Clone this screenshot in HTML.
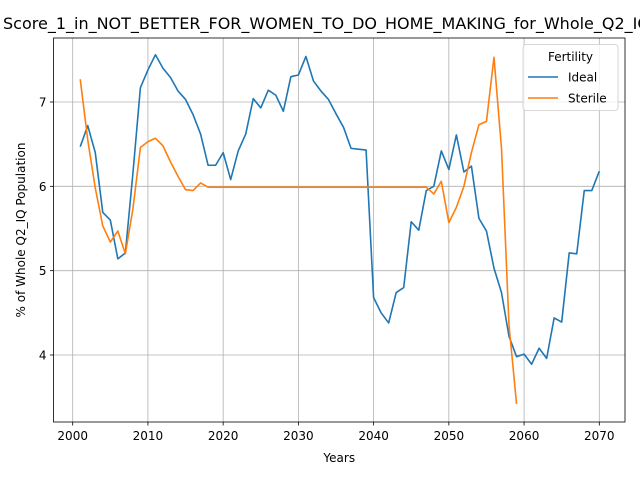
<!DOCTYPE html>
<html><head><meta charset="utf-8"><style>
body{margin:0;background:#fff;font-family:"Liberation Sans","DejaVu Sans",sans-serif}
</style></head><body>
<svg id="chart" width="640" height="480" xmlns="http://www.w3.org/2000/svg" font-family="DejaVu Sans, Liberation Sans, sans-serif">
<rect width="640" height="480" fill="#fff"/>
<text x="3" y="29" font-size="16" text-anchor="start">Score_1_in_NOT_BETTER_FOR_WOMEN_TO_DO_HOME_MAKING_for_Whole_Q2_IQ</text>
<g id="grid"></g><g id="series"></g><g id="axes"></g>
</svg>
<script>
const years=[];for(let y=2001;y<=2070;y++)years.push(y);
const idealValues=[6.47,6.72,6.40,5.69,5.60,5.14,5.21,6.15,7.17,7.38,7.56,7.40,7.29,7.13,7.03,6.85,6.62,6.25,6.25,6.40,6.08,6.42,6.62,7.04,6.93,7.14,7.08,6.89,7.30,7.32,7.54,7.25,7.13,7.03,6.86,6.70,6.45,6.44,6.43,4.68,4.50,4.38,4.74,4.80,5.58,5.48,5.95,6.00,6.42,6.20,6.61,6.17,6.24,5.62,5.47,5.03,4.74,4.22,3.98,4.01,3.89,4.08,3.96,4.44,4.39,5.21,5.20,5.95,5.95,6.18];
const sterileValues=[7.27,6.55,5.98,5.53,5.34,5.47,5.20,5.73,6.46,6.53,6.57,6.48,6.29,6.12,5.96,5.95,6.04,5.99,5.99,5.99,5.99,5.99,5.99,5.99,5.99,5.99,5.99,5.99,5.99,5.99,5.99,5.99,5.99,5.99,5.99,5.99,5.99,5.99,5.99,5.99,5.99,5.99,5.99,5.99,5.99,5.99,5.99,5.91,6.06,5.57,5.75,6.00,6.40,6.73,6.77,7.53,6.45,4.35,3.42];
const xTicks=[2000,2010,2020,2030,2040,2050,2060,2070];
const yTicks=[4,5,6,7];
const L=53.5,R=625,T=38,B=422;
const xs=v=>72.7+(v-2000)*(599.3-72.7)/70;
const ys=v=>355-(v-4)*(355-102)/3;
const NS="http://www.w3.org/2000/svg";
function mk(t,a,p){const e=document.createElementNS(NS,t);for(const k in a)e.setAttribute(k,a[k]);p.appendChild(e);return e;}
const g=document.getElementById('grid'),s=document.getElementById('series'),ax=document.getElementById('axes');
xTicks.forEach(t=>{
 const l=mk('line',{x1:xs(t),x2:xs(t),y1:T,y2:B,stroke:'#b0b0b0','stroke-width':0.8},g);
 
 
 mk('line',{x1:xs(t),x2:xs(t),y1:B,y2:B+3.5,stroke:'#000','stroke-width':0.8},ax);
 const tx=mk('text',{x:xs(t),y:B+18,'font-size':12,'text-anchor':'middle'},ax);tx.textContent=t;
 
 
});
yTicks.forEach(t=>{
 const l=mk('line',{x1:L,x2:R,y1:ys(t),y2:ys(t),stroke:'#b0b0b0','stroke-width':0.8},g);
 
 
 mk('line',{x1:L-3.5,x2:L,y1:ys(t),y2:ys(t),stroke:'#000','stroke-width':0.8},ax);
 const tx=mk('text',{x:L-7,y:ys(t)+4.5,'font-size':12,'text-anchor':'end'},ax);tx.textContent=t;
 
 
});
function line(vals,color,name){
 const p=mk('polyline',{points:vals.map((v,i)=>xs(years[i])+','+ys(v)).join(' '),fill:'none',stroke:color,'stroke-width':1.6,'stroke-linejoin':'round'},s);
 
 
}
line(idealValues,'#1f77b4','ideal-line');
line(sterileValues,'#ff7f0e','sterile-line');
const fr=mk('rect',{x:L,y:T,width:R-L,height:B-T,fill:'none',stroke:'#000','stroke-width':0.8},ax);


const xt=mk('text',{x:(L+R)/2,y:462,'font-size':12,'text-anchor':'middle'},ax);xt.textContent='Years';


const yt=mk('text',{x:0,y:0,'font-size':12,'text-anchor':'middle',transform:'translate(25,'+((T+B)/2)+') rotate(-90)'},ax);yt.textContent='% of Whole Q2_IQ Population';


const lg=mk('g',{},ax);


mk('rect',{x:523,y:44.5,width:95,height:66,rx:3,fill:'#fff','fill-opacity':0.8,stroke:'#ccc','stroke-width':0.8},lg);
const lt=mk('text',{x:570.5,y:61,'font-size':12,'text-anchor':'middle'},lg);lt.textContent='Fertility';
[['Ideal','#1f77b4',77],['Sterile','#ff7f0e',98]].forEach(([n,c,y])=>{
 const e=mk('g',{},lg);
 
 
 mk('line',{x1:528,x2:558,y1:y,y2:y,stroke:c,'stroke-width':1.6},e);
 const t=mk('text',{x:568,y:y+4.5,'font-size':12},e);t.textContent=n;
});
</script>
</body></html>
